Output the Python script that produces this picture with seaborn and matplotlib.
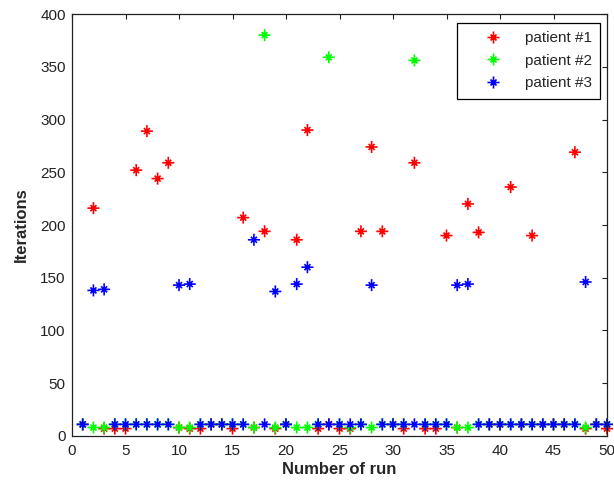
import matplotlib
matplotlib.use("Agg")
import matplotlib.pyplot as plt
from matplotlib.path import Path
import pandas as pd
import seaborn as sns

runs = list(range(1, 51))
patient1 = [11, 216, 7, 7, 7, 252, 289, 244, 259, 8,
            7, 7, 11, 11, 7, 207, 8, 194, 7, 11,
            186, 290, 7, 11, 7, 7, 194, 274, 194, 11,
            7, 259, 7, 7, 190, 8, 220, 193, 11, 11,
            236, 11, 190, 11, 11, 11, 269, 7, 11, 7]
patient2 = [11, 8, 8, 11, 11, 11, 11, 11, 11, 8,
            8, 11, 11, 11, 11, 11, 8, 380, 8, 11,
            8, 8, 11, 359, 11, 8, 11, 8, 11, 11,
            11, 356, 11, 11, 11, 8, 8, 11, 11, 11,
            11, 11, 11, 11, 11, 11, 11, 8, 11, 11]
patient3 = [11, 138, 139, 11, 11, 11, 11, 11, 11, 143,
            144, 11, 11, 11, 11, 11, 186, 11, 137, 11,
            144, 160, 11, 11, 11, 11, 11, 143, 11, 11,
            11, 11, 11, 11, 11, 143, 144, 11, 11, 11,
            11, 11, 11, 11, 11, 11, 11, 146, 11, 11]
patients = ["patient #1", "patient #2", "patient #3"]
colors = ["#ff0000", "#00ff00", "#0000ff"]
x_ticks = [0, 5, 10, 15, 20, 25, 30, 35, 40, 45, 50]
y_ticks = [0, 50, 100, 150, 200, 250, 300, 350, 400]

df = pd.DataFrame({
    "run": runs * 3,
    "iterations": patient1 + patient2 + patient3,
    "patient": [patients[0]] * 50 + [patients[1]] * 50 + [patients[2]] * 50,
})

# MATLAB-like asterisk: full "+" arms with shorter diagonal arms
d = 0.5
star_path = Path(
    [(-1, 0), (1, 0), (0, -1), (0, 1), (-d, -d), (d, d), (-d, d), (d, -d)],
    [Path.MOVETO, Path.LINETO] * 4,
)

sns.set_theme(style="white")
plt.rcParams["font.family"] = ["Liberation Sans", "DejaVu Sans"]

fig = plt.figure(figsize=(6.14, 4.84), dpi=100)
ax = fig.add_axes([0.1173, 0.0992, 0.8713, 0.8718])

sns.scatterplot(data=df, x="run", y="iterations", hue="patient",
                palette=colors, marker=star_path, s=75, linewidth=1.2,
                edgecolor="face", clip_on=False, ax=ax)

ax.set_xlim(0, 50)
ax.set_ylim(0, 400)
ax.set_xticks(x_ticks)
ax.set_yticks(y_ticks)
ax.tick_params(direction="in", length=3.75, width=0.8, top=True, right=True,
               labelsize=11, colors="#222222", pad=4.5)
ax.tick_params(axis="x", pad=6)
for sp in ax.spines.values():
    sp.set_color("#222222")
    sp.set_linewidth(0.9)
ax.set_xlabel("Number of run", fontsize=12, fontweight="bold", labelpad=3)
ax.set_ylabel("Iterations", fontsize=12, fontweight="bold", labelpad=8)

sns.move_legend(ax, "upper right", bbox_to_anchor=(0.987, 0.979), title=None,
                frameon=True, fancybox=False, edgecolor="black", framealpha=1,
                fontsize=11, borderpad=0.55, borderaxespad=0, handlelength=3.5,
                handletextpad=0.35, labelspacing=0.55)
ax.get_legend().get_frame().set_linewidth(0.9)

fig.savefig("out.png", dpi=100, facecolor="white")
